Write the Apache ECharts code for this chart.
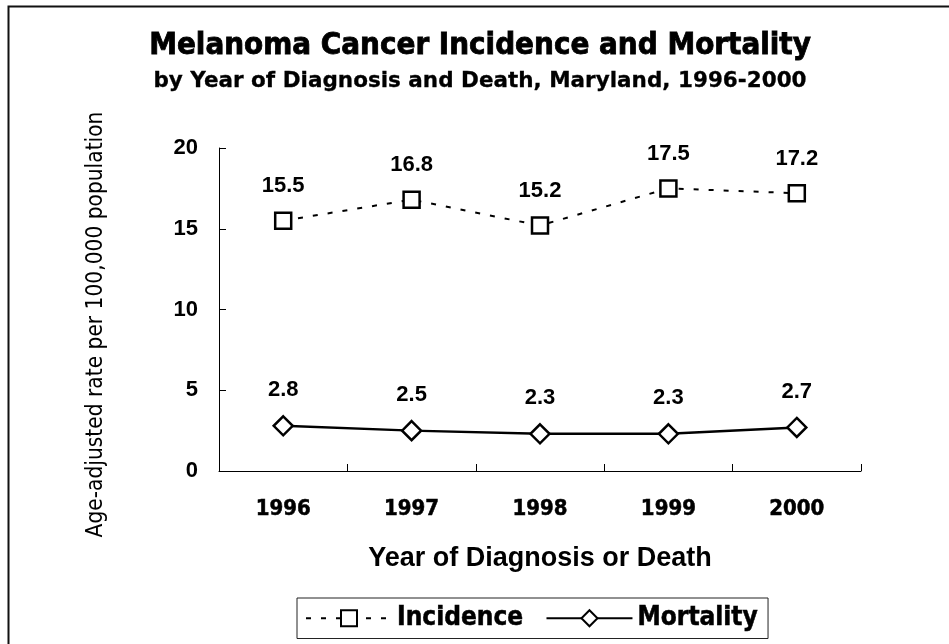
<!DOCTYPE html>
<html>
<head>
<meta charset="utf-8">
<title>Melanoma Cancer Incidence and Mortality</title>
<script src="https://cdn.jsdelivr.net/npm/echarts@6/dist/echarts.min.js"></script>
<style>
  html, body { margin: 0; padding: 0; background: #fff; }
  #chart { width: 949px; height: 644px; }
</style>
</head>
<body>
<div id="chart"></div>
<script>
// Years on the category axis
const years = ['1996', '1997', '1998', '1999', '2000'];
// Age-adjusted rates per 100,000 population
const incidence = [15.5, 16.8, 15.2, 17.5, 17.2];
const mortality = [2.8, 2.5, 2.3, 2.3, 2.7];
// Value axis ticks
const yTicks = [0, 5, 10, 15, 20];

const TAHOMA = '"DejaVu Sans Condensed", "DejaVu Sans", sans-serif';
const VERDANA = '"DejaVu Sans", sans-serif';
const ARIAL = '"Liberation Sans", Arial, sans-serif';

const chart = echarts.init(document.getElementById('chart'), null, { renderer: 'canvas' });

const valueLabel = {
  show: true,
  position: 'top',
  distance: 14,
  color: '#000',
  fontFamily: ARIAL,
  fontWeight: 'bold',
  fontSize: 22,
  formatter: p => p.value.toFixed(1)
};

chart.setOption({
  backgroundColor: '#fff',
  animation: false,
  title: {
    text: 'Melanoma Cancer Incidence and Mortality',
    subtext: 'by Year of Diagnosis and Death, Maryland, 1996-2000',
    left: 475,
    textAlign: 'center',
    top: 25,
    itemGap: 9,
    textStyle: {
      fontFamily: TAHOMA, fontWeight: 'bold', fontSize: 31, color: '#000',
      textBorderColor: '#000', textBorderWidth: 0.8
    },
    subtextStyle: {
      fontFamily: VERDANA, fontWeight: 'bold', fontSize: 21.5, color: '#000',
      textBorderColor: '#000', textBorderWidth: 0.3
    }
  },
  graphic: [{
    type: 'rect',
    left: 6, top: 4,
    shape: { width: 1000, height: 700 },
    style: { fill: 'none', stroke: '#111', lineWidth: 2 },
    silent: true
  }],
  legend: {
    left: 297,
    top: 598,
    orient: 'horizontal',
    padding: [7, 10, 7, 8],
    itemGap: 22,
    itemWidth: 86,
    itemHeight: 20,
    borderColor: '#222',
    borderWidth: 1,
    textStyle: {
      fontFamily: TAHOMA, fontWeight: 'bold', fontSize: 26, color: '#000',
      textBorderColor: '#000', textBorderWidth: 0.5
    },
    data: ['Incidence', 'Mortality']
  },
  grid: { left: 219, right: 88, top: 148, bottom: 173, containLabel: false },
  xAxis: {
    type: 'category',
    data: years,
    boundaryGap: true,
    axisLine: { lineStyle: { color: '#000', width: 1 } },
    axisTick: { show: true, inside: true, length: 7, lineStyle: { color: '#000' } },
    axisLabel: {
      margin: 27, color: '#000', fontFamily: TAHOMA, fontWeight: 'bold', fontSize: 22,
      textBorderColor: '#000', textBorderWidth: 0.5
    },
    name: 'Year of Diagnosis or Death',
    nameLocation: 'middle',
    nameGap: 74,
    nameTextStyle: { fontFamily: ARIAL, fontWeight: 'bold', fontSize: 27, color: '#000' },
    splitLine: { show: false }
  },
  yAxis: {
    type: 'value',
    min: yTicks[0],
    max: yTicks[yTicks.length - 1],
    interval: yTicks[1] - yTicks[0],
    axisLine: { show: true, lineStyle: { color: '#000', width: 1 } },
    axisTick: { show: true, inside: true, length: 7, lineStyle: { color: '#000' } },
    axisLabel: { margin: 21, color: '#000', fontFamily: ARIAL, fontWeight: 'bold', fontSize: 22 },
    splitLine: { show: false },
    name: 'Age-adjusted rate per 100,000 population',
    nameLocation: 'middle',
    nameRotate: 90,
    nameGap: 111,
    // extra end padding nudges the rotated title a little toward the bottom
    nameTextStyle: { fontFamily: TAHOMA, fontSize: 22.5, color: '#000', padding: [0, 30, 0, 0] }
  },
  series: [
    {
      name: 'Incidence',
      type: 'line',
      data: incidence,
      symbol: 'rect',
      symbolSize: 16,
      lineStyle: { color: '#000', width: 2, type: [5, 10] },
      itemStyle: { color: '#fff', borderColor: '#000', borderWidth: 2.5 },
      label: valueLabel
    },
    {
      name: 'Mortality',
      type: 'line',
      data: mortality,
      symbol: 'diamond',
      symbolSize: 19,
      lineStyle: { color: '#000', width: 2.5 },
      itemStyle: { color: '#fff', borderColor: '#000', borderWidth: 2.5 },
      label: valueLabel
    }
  ]
});
</script>
</body>
</html>
